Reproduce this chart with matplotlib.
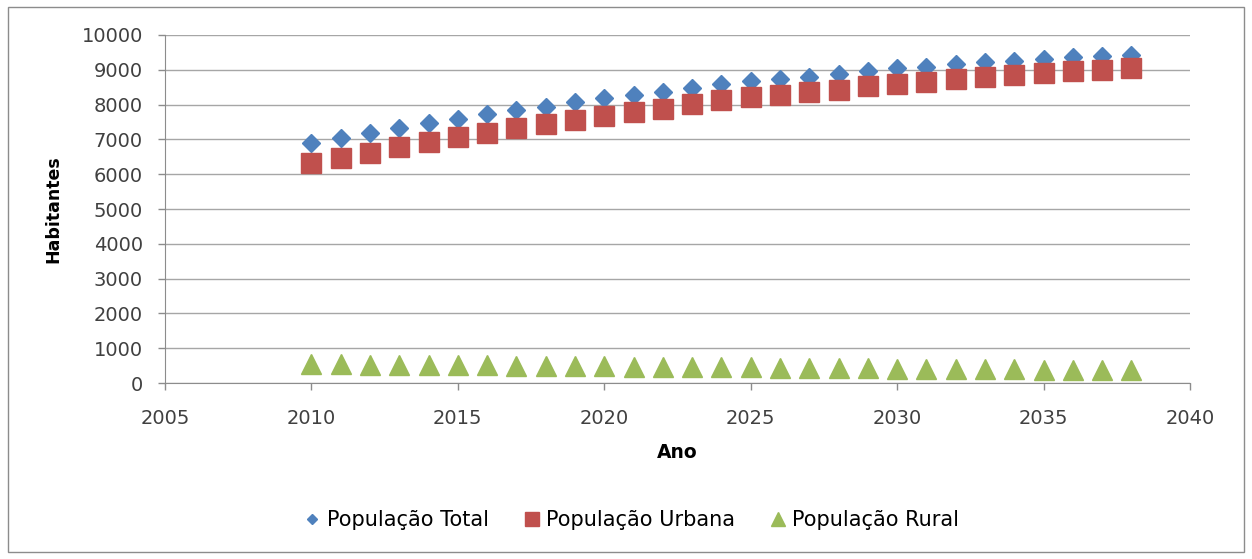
import numpy as np
import matplotlib.pyplot as plt
from matplotlib.patches import Rectangle
from matplotlib.lines import Line2D

# dados (projecao populacional)
anos = list(range(2010, 2039))
pop_total = [6890, 7030, 7175, 7315, 7460, 7600, 7720, 7845, 7945, 8065,
             8180, 8275, 8370, 8490, 8600, 8680, 8740, 8805, 8870, 8970,
             9040, 9090, 9155, 9215, 9255, 9310, 9355, 9395, 9425]
pop_urbana = [6325, 6472, 6623, 6770, 6921, 7068, 7194, 7326, 7432, 7559,
              7680, 7782, 7883, 8010, 8126, 8213, 8279, 8351, 8422, 8529,
              8605, 8662, 8733, 8800, 8846, 8908, 8959, 9006, 9042]
pop_rural = [545, 538, 532, 525, 519, 512, 506, 499, 493, 486,
             480, 474, 467, 461, 455, 448, 442, 436, 429, 423,
             417, 411, 404, 398, 392, 386, 380, 374, 368]

x_ticks = [2005, 2010, 2015, 2020, 2025, 2030, 2035, 2040]
y_ticks = list(range(0, 10001, 1000))

azul = "#4F81BD"
vermelho = "#C0504D"
verde = "#9BBB59"

plt.rcParams['font.family'] = ['DejaVu Sans']

fig = plt.figure(figsize=(12.52, 5.59), dpi=100)
ax = fig.add_axes([0.1318, 0.3148, 0.8187, 0.6226])

# moldura externa do grafico
fig.patches.append(Rectangle((0.006, 0.013), 0.988, 0.974, transform=fig.transFigure,
                             fill=False, edgecolor="#8c8c8c", linewidth=1))

ax.plot(anos, pop_total, linestyle="none", marker="D", markersize=9,
        color=azul, zorder=3)
ax.plot(anos, pop_urbana, linestyle="none", marker="s", markersize=14,
        color=vermelho, zorder=4)
ax.plot(anos, pop_rural, linestyle="none", marker="^", markersize=14.5,
        color=verde, zorder=3)

ax.set_xlim(2005, 2040)
ax.set_ylim(0, 10000)
ax.set_xticks(x_ticks)
ax.set_yticks(y_ticks)
ax.grid(axis="y", color="#a6a6a6", linewidth=1)
ax.set_axisbelow(True)

for lado in ["top", "right"]:
    ax.spines[lado].set_visible(False)
for lado in ["left", "bottom"]:
    ax.spines[lado].set_color("#8c8c8c")

ax.tick_params(axis="both", colors="#8c8c8c", labelcolor="#404040",
               labelsize=14, length=5, width=1)
ax.tick_params(axis="y", pad=11)
ax.tick_params(axis="x", pad=13.5)

ax.set_xlabel("Ano", fontsize=13.5, fontweight="bold")
ax.set_ylabel("Habitantes", fontsize=12.5, fontweight="bold")
ax.xaxis.set_label_coords(0.5, -0.2)
ax.xaxis.label.set_va("center")
ax.yaxis.set_label_coords(-0.109, 0.5)
ax.yaxis.label.set_va("center")

# marcadores da legenda menores que os do grafico
itens = [
    Line2D([], [], linestyle="none", marker="D", markersize=5, color=azul),
    Line2D([], [], linestyle="none", marker="s", markersize=10, color=vermelho),
    Line2D([], [], linestyle="none", marker="^", markersize=10, color=verde),
]
nomes = ["População Total", "População Urbana", "População Rural"]
fig.legend(itens, nomes, loc="center", bbox_to_anchor=(0.505, 0.069), ncol=3,
           frameon=False, fontsize=15, handlelength=0.7, handletextpad=0.35,
           columnspacing=1.7)

fig.savefig("out.png", dpi=100)
